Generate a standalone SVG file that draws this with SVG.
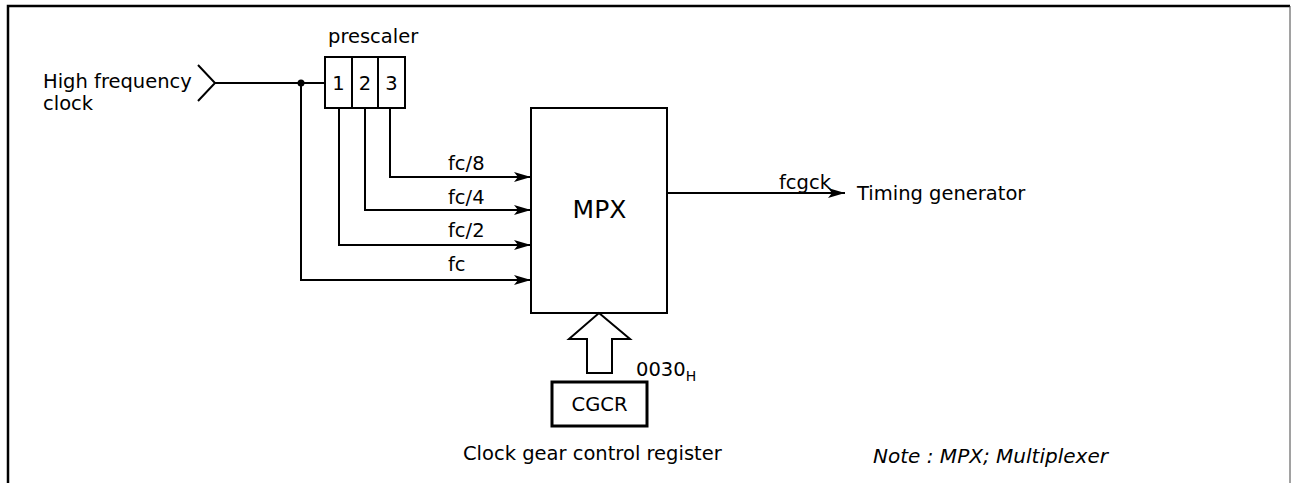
<svg xmlns="http://www.w3.org/2000/svg" width="1291" height="483" viewBox="0 0 1291 483">
<defs>
<style>
text{font-family:"DejaVu Sans","Noto Sans",sans-serif;fill:#000;font-size:19.5px}
text.big{font-size:25px}
.ln{fill:none;stroke:#000;stroke-width:2}
.box{fill:#fff;stroke:#000;stroke-width:2}
</style>
<marker id="ah" viewBox="0 0 17 10" refX="17" refY="5" markerWidth="17" markerHeight="10" markerUnits="userSpaceOnUse" orient="auto">
<path d="M0,0 L17,5 L0,10 L4,5 Z" fill="#000"/>
</marker>
</defs>
<rect width="1291" height="483" fill="#fff"/>
<g id="frame">
<path d="M8,483 V6 H1290" fill="none" stroke="#000" stroke-width="2.5"/>
<line x1="1290" y1="6" x2="1290" y2="483" stroke="#444" stroke-width="1"/>
</g>
<g id="input">
<text x="43" y="88">High frequency</text>
<text x="43" y="110">clock</text>
<path class="ln" d="M198,65 L215,83 L198,101"/>
</g>
<g id="prescaler">
<text x="328" y="43">prescaler</text>
<rect class="box" x="325" y="57" width="80" height="51"/>
<line class="ln" x1="352" y1="57" x2="352" y2="108"/>
<line class="ln" x1="378" y1="57" x2="378" y2="108"/>
<text x="338.5" y="90" text-anchor="middle">1</text>
<text x="365" y="90" text-anchor="middle">2</text>
<text x="391.5" y="90" text-anchor="middle">3</text>
</g>
<g id="mpx">
<rect class="box" x="531" y="108" width="136" height="205"/>
<text class="big" x="599.5" y="218" text-anchor="middle">MPX</text>
</g>
<g id="cgcr">
<rect x="552" y="382" width="95" height="44" fill="#fff" stroke="#000" stroke-width="3"/>
<text x="599.5" y="411" text-anchor="middle">CGCR</text>
<text x="636" y="376">0030<tspan font-size="14" dy="5">H</tspan></text>
<text x="463" y="460">Clock gear control register</text>
</g>
<g id="timing">
<text x="857" y="200">Timing generator</text>
</g>
<g id="note">
<text x="873" y="463" font-style="italic" textLength="235" lengthAdjust="spacingAndGlyphs">Note : MPX; Multiplexer</text>
</g>
<g id="connectors">
<line class="ln" x1="215" y1="83" x2="325" y2="83"/>
<circle cx="301" cy="83" r="3.5" fill="#000"/>
<path class="ln" d="M301,83 V280 H531" marker-end="url(#ah)"/>
<path class="ln" d="M339,108 V245 H531" marker-end="url(#ah)"/>
<path class="ln" d="M365,108 V210 H531" marker-end="url(#ah)"/>
<path class="ln" d="M390,108 V177 H531" marker-end="url(#ah)"/>
<path class="ln" d="M667,193 H845" marker-end="url(#ah)"/>
<text x="448" y="170">fc/8</text>
<text x="448" y="204">fc/4</text>
<text x="448" y="237">fc/2</text>
<text x="448" y="271">fc</text>
<text x="779" y="189">fcgck</text>
<path d="M599,313 L630,339 L612,339 L612,373 L587,373 L587,339 L569,339 Z" fill="#fff" stroke="#000" stroke-width="2" stroke-linejoin="miter"/>
</g>
</svg>
